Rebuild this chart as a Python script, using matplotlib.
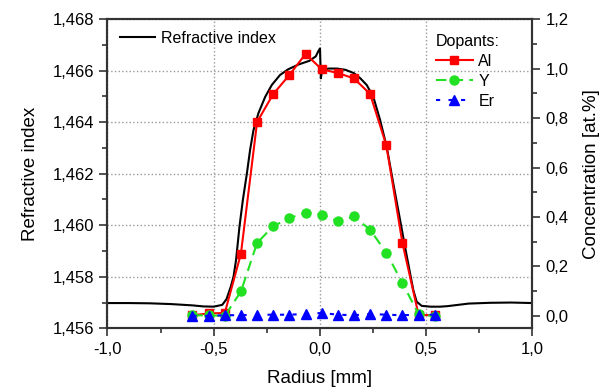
import matplotlib
matplotlib.use("Agg")
import matplotlib.pyplot as plt
from matplotlib.ticker import MultipleLocator, FuncFormatter

plt.rcParams['font.family'] = ['Liberation Sans', 'DejaVu Sans']

# refractive index profile
ri_x = [-1.0, -0.9, -0.8, -0.7, -0.6, -0.55, -0.5, -0.46, -0.44, -0.42,
        -0.407, -0.395, -0.379, -0.363, -0.344, -0.329, -0.313, -0.29, -0.258, -0.227,
        -0.188, -0.15, -0.1, -0.05, -0.02, -0.008, 0.0, 0.004, 0.01, 0.04,
        0.08, 0.12, 0.16, 0.19, 0.22, 0.251, 0.283, 0.314, 0.345, 0.377,
        0.4, 0.424, 0.439, 0.455, 0.479, 0.52, 0.565, 0.6, 0.7, 0.8,
        0.9, 1.0]
ri_n = [1.45698, 1.45698, 1.45697, 1.45694, 1.45689, 1.45685, 1.45684, 1.45691, 1.45713, 1.45761,
        1.45800, 1.45865, 1.45994, 1.46098, 1.46201, 1.46292, 1.46369, 1.46434, 1.46498, 1.46544,
        1.46583, 1.46605, 1.46624, 1.46638, 1.46655, 1.46675, 1.46686, 1.46570, 1.46602, 1.46608,
        1.46608, 1.46603, 1.46590, 1.46570, 1.46544, 1.46498, 1.46408, 1.46304, 1.46162, 1.46020,
        1.45917, 1.45813, 1.45749, 1.45703, 1.45687, 1.45684, 1.45684, 1.45686, 1.45696, 1.45699,
        1.45700, 1.45698]

# dopant concentrations
dop_x = [-0.60, -0.524, -0.448, -0.372, -0.296, -0.220, -0.144, -0.068,
         0.008, 0.084, 0.160, 0.236, 0.312, 0.388, 0.464, 0.540]
al = [0.003, 0.01, 0.012, 0.252, 0.784, 0.897, 0.974, 1.059,
      0.997, 0.982, 0.960, 0.897, 0.690, 0.295, 0.004, 0.003]
y_conc = [0.002, 0.003, 0.0, 0.099, 0.295, 0.363, 0.395, 0.418,
          0.410, 0.382, 0.402, 0.348, 0.256, 0.133, 0.007, -0.001]
er = [0.0, 0.0, 0.003, 0.003, 0.005, 0.005, 0.005, 0.008,
      0.012, 0.005, 0.003, 0.008, 0.005, 0.003, 0.005, 0.005]


def fmt(decimals):
    return FuncFormatter(lambda v, p: f"{v:.{decimals}f}".replace('.', ','))


fig = plt.figure(figsize=(6.08, 3.89), dpi=100)
ax = fig.add_axes([0.1768, 0.156, 0.699, 0.795])
ax2 = ax.twinx()

ax.plot(ri_x, ri_n, color='black', lw=1.5, label='Refractive index', zorder=3)
ax.set_xlim(-1.0, 1.0)
ax.set_ylim(1.456, 1.468)
ax.xaxis.set_major_locator(MultipleLocator(0.5))
ax.xaxis.set_minor_locator(MultipleLocator(0.25))
ax.yaxis.set_major_locator(MultipleLocator(0.002))
ax.yaxis.set_minor_locator(MultipleLocator(0.001))
ax.xaxis.set_major_formatter(fmt(1))
ax.yaxis.set_major_formatter(fmt(3))
ax.grid(True, which='major', color='#999999', ls=':', lw=1)

ax2.plot(dop_x, al, color='#ff0000', lw=1.5, marker='s', ms=6, label='Al', zorder=4)
ax2.plot(dop_x, y_conc, color='#22e022', lw=1.5, ls=(0, (5, 3)), marker='o', ms=6.5, label='Y', zorder=4)
ax2.plot(dop_x, er, color='#0000ff', lw=1.5, ls=(0, (2, 4)), marker='^', ms=7, label='Er', zorder=5)
ax2.set_ylim(-0.05, 1.2)
ax2.yaxis.set_major_locator(MultipleLocator(0.2))
ax2.yaxis.set_minor_locator(MultipleLocator(0.1))
ax2.yaxis.set_major_formatter(fmt(1))

for a in (ax, ax2):
    for s in a.spines.values():
        s.set_color('#333333')
        s.set_linewidth(1.5)
    a.tick_params(which='major', length=6, width=1.2, labelsize=12, color='#333333')
    a.tick_params(which='minor', length=3.5, width=1.2, color='#333333')
ax.tick_params(axis='y', which='both', right=False)

ax.set_xlabel('Radius [mm]', fontsize=13.5, labelpad=10)
ax.set_ylabel('Refractive index', fontsize=13.5, labelpad=10)
ax2.set_ylabel('Concentration [at.%]', fontsize=13.5, labelpad=10)

ax.legend(loc='upper left', bbox_to_anchor=(0.029, 0.962), frameon=False,
          fontsize=11.5, handlelength=2.2, handletextpad=0.4,
          borderpad=0, borderaxespad=0)
ax2.legend(loc='upper left', bbox_to_anchor=(0.773, 0.953), frameon=False,
           fontsize=11.5, title='Dopants:', title_fontsize=11.5,
           handlelength=2.3, handletextpad=0.35, alignment='left',
           labelspacing=0.32, borderpad=0, borderaxespad=0)

fig.savefig('out.png', dpi=100)
